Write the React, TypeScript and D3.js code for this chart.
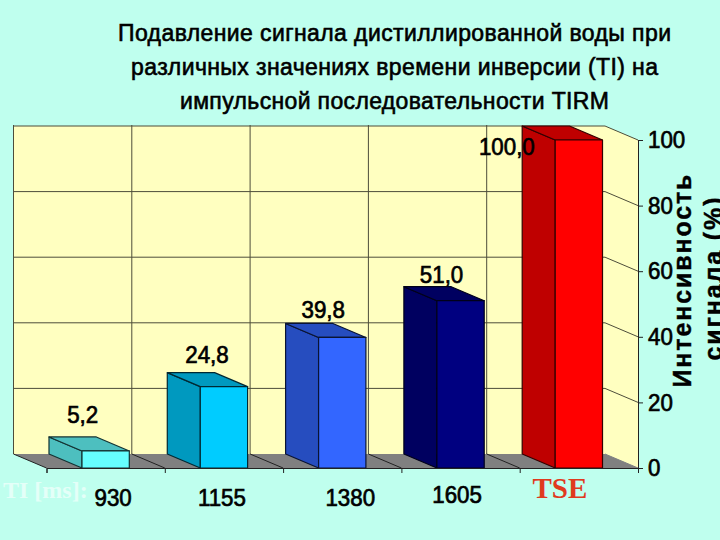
import * as d3 from "d3";
import {useRef, useEffect} from "react";

const categories = ["930", "1155", "1380", "1605", "TSE"];
const values = [5.2, 24.8, 39.8, 51.0, 100.0];
const barColors = ["#66FFFF", "#00CCFF", "#3366FF", "#000080", "#FF0000"];
const yTicks = [0, 20, 40, 60, 80, 100];
const titleLines = [
    "Подавление сигнала дистиллированной воды при",
    "различных значениях времени инверсии (TI) на",
    "импульсной последовательности TIRM",
];

// hand placed labels in the original slide, offsets from the bar centre
const valueLabelDx = [-23, -17, -19, -19, -72];
const valueLabelBaseline = [423, 363, 318, 283, 155];
const catLabelDx = [7.5, -2, 8, -3.5, -19];
const catLabelBaseline = [506, 506, 506, 503, 498];

const FONT = "'Liberation Sans', Arial, sans-serif";

// the slide's numbers are tall and narrow, squeeze the glyphs a bit
function condense(sel: any) {
    sel.each(function (this: any) {
        const w = this.getComputedTextLength();
        d3.select(this).attr("textLength", w * 0.93).attr("lengthAdjust", "spacingAndGlyphs");
    });
}

export default function App() {
    const svgRef = useRef(null);

    useEffect(() => {
        const svg = d3.select(svgRef.current);
        svg.selectAll("*").remove();

        const left = 46.5, right = 638, bottom = 468, top = 140;
        const depthX = 33, depthY = 14, wallTop = 125;

        const x = d3.scaleBand().domain(categories).range([left, right]).paddingInner(0.6).paddingOuter(0.3);
        const edges = d3.scaleLinear().domain([0, categories.length]).range([left, right]);
        const y = d3.scaleLinear().domain([0, 100]).range([bottom, top]);

        svg.append("clipPath").attr("id", "plot-clip")
            .append("rect").attr("x", 0).attr("y", wallTop).attr("width", 720).attr("height", 415);

        const plot = svg.append("g").attr("clip-path", "url(#plot-clip)");
        const poly = (pts: number[][]) => pts.map(p => p.join(",")).join(" ");

        // Back wall, side wall, floor
        plot.append("polygon")
            .attr("points", poly([[left - depthX, y(100) - depthY], [right - depthX, y(100) - depthY], [right - depthX, bottom - depthY], [left - depthX, bottom - depthY]]))
            .attr("fill", "#FFFFC0");
        plot.append("polygon")
            .attr("points", poly([[right - depthX, y(100) - depthY], [right, y(100)], [right, bottom], [right - depthX, bottom - depthY]]))
            .attr("fill", "#FFFFC0");
        plot.append("polygon")
            .attr("points", poly([[left - depthX, bottom - depthY], [right - depthX, bottom - depthY], [right, bottom], [left, bottom]]))
            .attr("fill", "#808080");

        // Gridlines
        const gridColor = "#4d4d3a";
        yTicks.slice(1).forEach(t => {
            plot.append("line").attr("x1", left - depthX).attr("x2", right - depthX)
                .attr("y1", y(t) - depthY).attr("y2", y(t) - depthY)
                .attr("stroke", gridColor).attr("stroke-width", 1);
            plot.append("line").attr("x1", right - depthX).attr("x2", right)
                .attr("y1", y(t) - depthY).attr("y2", y(t))
                .attr("stroke", gridColor).attr("stroke-width", 1);
        });
        d3.range(categories.length + 1).forEach(i => {
            // no vertical line where the back wall meets the side wall
            if (i < categories.length) {
                plot.append("line").attr("x1", edges(i) - depthX).attr("x2", edges(i) - depthX)
                    .attr("y1", wallTop).attr("y2", bottom - depthY)
                    .attr("stroke", gridColor).attr("stroke-width", 1);
            }
            plot.append("line").attr("x1", edges(i) - depthX).attr("x2", edges(i))
                .attr("y1", bottom - depthY).attr("y2", bottom)
                .attr("stroke", i < categories.length ? "#222" : "#808080").attr("stroke-width", 1);
        });

        // Bars: side, top, front
        categories.forEach((c, i) => {
            const x0 = x(c) as number;
            const x1 = x0 + x.bandwidth();
            const yv = y(values[i]);
            const front = d3.color(barColors[i]) as d3.RGBColor;
            const shade = d3.rgb(front.r * 0.75, front.g * 0.75, front.b * 0.75).formatHex();
            const edge = d3.rgb(front.r * 0.2, front.g * 0.2, front.b * 0.2).formatHex();
            const g = plot.append("g").attr("stroke", edge).attr("stroke-width", 1.2).attr("stroke-linejoin", "round");
            g.append("polygon")
                .attr("points", poly([[x0, yv], [x0 - depthX, yv - depthY], [x0 - depthX, bottom - depthY], [x0, bottom]]))
                .attr("fill", shade);
            g.append("polygon")
                .attr("points", poly([[x0, yv], [x0 - depthX, yv - depthY], [x1 - depthX, yv - depthY], [x1, yv]]))
                .attr("fill", shade);
            g.append("rect")
                .attr("x", x0).attr("y", yv).attr("width", x1 - x0).attr("height", bottom - yv)
                .attr("fill", barColors[i]);
        });

        // Axes
        const xAxis = svg.append("g")
            .attr("transform", `translate(0,${bottom})`)
            .call(d3.axisBottom(edges).ticks(categories.length).tickSizeOuter(0).tickSize(5).tickFormat(() => ""));
        xAxis.selectAll("path,line").attr("stroke", "#222");

        const yAxis = svg.append("g")
            .attr("transform", `translate(${right},0)`)
            .call(d3.axisRight(y).tickValues(yTicks).tickSize(5).tickSizeOuter(0).tickPadding(5));
        yAxis.selectAll("path,line").attr("stroke", "#222");
        yAxis.selectAll("text")
            .attr("font-family", FONT).attr("font-size", 24).attr("fill", "#000")
            .attr("stroke", "#000").attr("stroke-width", 0.7)
            .call(condense);

        // Value labels
        categories.forEach((c, i) => {
            const cx = (x(c) as number) + x.bandwidth() / 2;
            svg.append("text")
                .attr("x", cx + valueLabelDx[i]).attr("y", valueLabelBaseline[i])
                .attr("text-anchor", "middle")
                .attr("font-family", FONT).attr("font-size", 24)
                .attr("stroke", "#000").attr("stroke-width", 0.7)
                .text(values[i].toFixed(1).replace(".", ","))
                .call(condense);
            const tse = c === "TSE";
            const label = svg.append("text")
                .attr("x", cx + catLabelDx[i]).attr("y", catLabelBaseline[i])
                .attr("text-anchor", "middle")
                .attr("font-family", tse ? "'Liberation Serif', serif" : FONT)
                .attr("font-size", tse ? 29 : 24)
                .attr("font-weight", tse ? "bold" : "normal")
                .attr("fill", tse ? "#E03A1E" : "#000")
                .attr("stroke", tse ? "none" : "#000").attr("stroke-width", 0.7)
                .text(c);
            if (!tse) label.call(condense);
        });

        svg.append("text")
            .attr("x", 3).attr("y", 498)
            .attr("font-family", "'Liberation Serif', serif").attr("font-size", 24).attr("font-weight", "bold")
            .attr("fill", "#E4FFF8")
            .text("TI [ms]:");

        // Title
        const titleWidths = [553, 527, 429];
        titleLines.forEach((t, i) => {
            svg.append("text")
                .attr("x", 394.5).attr("y", 41 + i * 34)
                .attr("text-anchor", "middle")
                .attr("font-family", FONT).attr("font-size", 23)
                .attr("textLength", titleWidths[i]).attr("lengthAdjust", "spacing")
                .attr("stroke", "#000").attr("stroke-width", 0.6)
                .text(t);
        });

        // Rotated axis title, runs off the right edge like the slide does
        [["Интенсивность", 691, 281, 213, 25], ["сигнала (%)", 722, 279, 163, 25]].forEach(([t, tx, ty, len, size]) => {
            svg.append("text")
                .attr("transform", `translate(${tx},${ty}) rotate(-90)`)
                .attr("text-anchor", "middle")
                .attr("font-family", FONT).attr("font-size", size as number).attr("font-weight", "bold")
                .attr("stroke", "#000").attr("stroke-width", 0.4)
                .attr("textLength", len as number).attr("lengthAdjust", "spacing")
                .text(t as string);
        });
    }, []);

    return (
        <svg ref={svgRef} width={720} height={540}
             style={{position: "fixed", left: 0, top: 0, background: "#BFFFEE"}} />
    );
}
